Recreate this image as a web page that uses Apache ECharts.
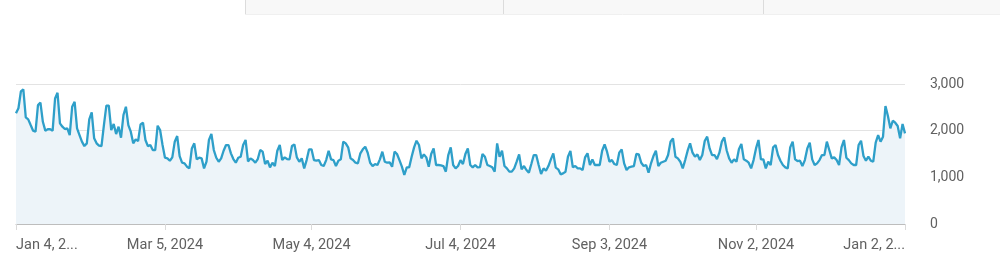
<!DOCTYPE html>
<html>
<head>
<meta charset="utf-8">
<script src="https://cdn.jsdelivr.net/npm/echarts@6/dist/echarts.min.js"></script>
<style>
html,body{margin:0;padding:0;background:#fff;}
#chart{width:1000px;height:273px;}
</style>
</head>
<body>
<div id="chart"></div>
<script>
// Daily values, Jan 4 2024 .. Jan 2 2025 (365 days)
var values = [
2371,2480,2840,2885,2285,2243,2120,2000,1978,2550,
2600,2190,2000,2030,2030,2000,2690,2813,2156,2085,
2035,2050,1906,2513,2620,2050,1906,1764,1670,1728,
2242,2392,1835,1728,1678,1670,2120,2535,2535,2013,
2142,1928,2085,1850,2335,2513,2120,1978,1728,1814,
1778,2135,2170,1800,1670,1692,1585,1585,2106,2013,
1692,1420,1406,1356,1428,1764,1885,1456,1313,1300,
1228,1192,1620,1728,1385,1420,1406,1192,1335,1800,
1928,1585,1420,1335,1406,1570,1692,1692,1514,1392,
1313,1420,1442,1692,1800,1340,1406,1370,1313,1392,
1585,1550,1285,1356,1214,1313,1242,1570,1692,1370,
1428,1392,1385,1670,1706,1428,1335,1406,1192,1370,
1600,1600,1370,1356,1370,1264,1242,1370,1570,1385,
1370,1242,1356,1385,1764,1728,1642,1406,1370,1313,
1300,1514,1600,1657,1528,1313,1242,1285,1264,1385,
1550,1335,1313,1320,1228,1550,1500,1370,1228,1050,
1214,1214,1442,1642,1785,1692,1406,1492,1428,1228,
1500,1620,1264,1264,1257,1242,1121,1478,1642,1264,
1192,1242,1370,1285,1500,1620,1264,1214,1264,1214,
1220,1500,1442,1264,1242,1214,1121,1728,1442,1570,
1242,1192,1121,1121,1192,1335,1492,1171,1242,1157,
1100,1285,1478,1478,1264,1071,1192,1142,1242,1385,
1514,1207,1171,1064,1085,1121,1442,1564,1214,1242,
1192,1192,1157,1428,1514,1264,1385,1264,1264,1264,
1570,1706,1550,1335,1370,1285,1264,1528,1600,1300,
1157,1214,1228,1242,1500,1492,1313,1242,1264,1100,
1300,1456,1570,1242,1313,1335,1356,1478,1764,1835,
1442,1406,1335,1192,1370,1570,1728,1528,1442,1492,
1370,1478,1778,1871,1620,1478,1478,1392,1528,1764,
1857,1575,1406,1313,1385,1335,1600,1714,1385,1356,
1313,1192,1370,1620,1800,1385,1385,1192,1335,1264,
1642,1692,1478,1356,1264,1214,1192,1642,1764,1385,
1349,1356,1242,1370,1620,1742,1385,1264,1300,1370,
1478,1478,1764,1585,1406,1428,1370,1264,1642,1800,
1420,1370,1300,1264,1264,1692,1785,1456,1356,1442,
1356,1335,1742,1906,1764,1871,2528,2313,2050,2213,
2170,2100,1835,2142,1942
];
var startDate = [2024, 0, 4];
var tickDates = ['2024-01-04','2024-03-05','2024-05-04','2024-07-04','2024-09-03','2024-11-02','2025-01-02'];
var tickLabels = ['Jan 4, 2...','Mar 5, 2024','May 4, 2024','Jul 4, 2024','Sep 3, 2024','Nov 2, 2024','Jan 2, 2...'];
var yTicks = [0, 1000, 2000, 3000];

function pad(n){return n<10?'0'+n:''+n;}
var categories = [];
for (var i = 0; i < values.length; i++) {
  var d = new Date(startDate[0], startDate[1], startDate[2] + i);
  categories.push(d.getFullYear() + '-' + pad(d.getMonth()+1) + '-' + pad(d.getDate()));
}
var labelMap = {};
tickDates.forEach(function(t, k){ labelMap[t] = tickLabels[k]; });

var chart = echarts.init(document.getElementById('chart'), null, {renderer:'canvas'});
chart.setOption({
  animation: false,
  backgroundColor: '#ffffff',
  graphic: [
    {type:'rect', shape:{x:245,y:0,width:755,height:14}, style:{fill:'#f8f8f8'}, silent:true},
    {type:'line', shape:{x1:245.5,y1:0,x2:245.5,y2:15}, style:{stroke:'#dcdcdc',lineWidth:1}},
    {type:'line', shape:{x1:503.5,y1:0,x2:503.5,y2:15}, style:{stroke:'#dcdcdc',lineWidth:1}},
    {type:'line', shape:{x1:763.5,y1:0,x2:763.5,y2:15}, style:{stroke:'#dcdcdc',lineWidth:1}},
    {type:'line', shape:{x1:245,y1:14.5,x2:1000,y2:14.5}, style:{stroke:'#f0f0f0',lineWidth:1}}
  ],
  grid: {left: 16, right: 95, top: 84, bottom: 49, containLabel: false},
  xAxis: {
    type: 'category',
    data: categories,
    boundaryGap: false,
    axisLine: {show: true, lineStyle: {color: '#bdbdbd', width: 1}},
    axisTick: {
      show: true,
      length: 6,
      lineStyle: {color: '#dadada'},
      interval: function(idx, val){ return labelMap.hasOwnProperty(val); }
    },
    axisLabel: {
      show: true,
      interval: function(idx, val){ return labelMap.hasOwnProperty(val); },
      formatter: function(val){ return labelMap[val] || ''; },
      color: '#616161',
      fontFamily: 'Roboto',
      fontSize: 14.5,
      margin: 14,
      alignMinLabel: 'left',
      alignMaxLabel: 'right'
    },
    splitLine: {show: false}
  },
  yAxis: {
    type: 'value',
    position: 'right',
    min: yTicks[0],
    max: yTicks[yTicks.length-1],
    interval: 1000,
    axisLine: {show: false},
    axisTick: {show: false},
    axisLabel: {
      color: '#616161',
      fontFamily: 'Roboto',
      fontSize: 14,
      margin: 25,
      padding: [3, 0, 0, 0],
      formatter: function(v){ return v.toLocaleString('en-US'); }
    },
    splitLine: {show: true, lineStyle: {color: '#e3e3e3', width: 1}}
  },
  series: [{
    type: 'line',
    data: values,
    showSymbol: false,
    symbol: 'none',
    lineStyle: {color: '#2e9fc9', width: 2.3},
    areaStyle: {color: '#edf4f9', opacity: 1},
    z: 3
  }]
});
</script>
</body>
</html>
